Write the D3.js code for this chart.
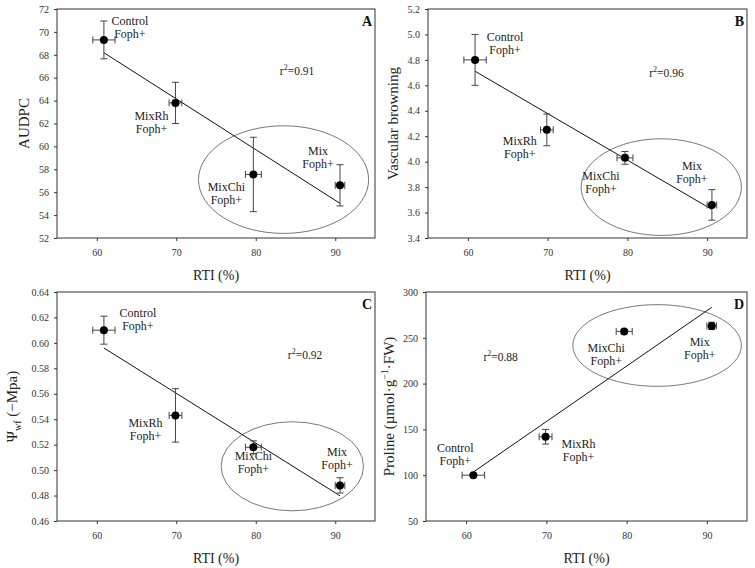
<!DOCTYPE html>
<html>
<head>
<meta charset="utf-8">
<script src="https://cdn.jsdelivr.net/npm/d3@7"></script>
<style>
body { margin: 0; background: #fff; }
svg { display: block; font-family: "Liberation Serif", "Times New Roman", serif; }
.tick text { fill: #333; font-size: 10px; }
.tick line { stroke: #333; }
</style>
</head>
<body>
<div id="chart"></div>
<script>
// shared x values (RTI %) and groups
const groups = ["Control", "MixRh", "MixChi", "Mix"]
const rti = [60.9, 69.9, 79.7, 90.6]
const rtiErr = [1.4, 0.8, 1.0, 0.6]
const xTicks = [60, 70, 80, 90]

// panel series
const audpc = [69.3, 63.8, 57.55, 56.6]
const audpcErr = [1.65, 1.8, 3.25, 1.8]
const browning = [4.8, 4.25, 4.03, 3.66]
const browningErr = [0.2, 0.125, 0.05, 0.12]
const psiWf = [0.610, 0.543, 0.518, 0.488]
const psiWfErr = [0.011, 0.021, 0.005, 0.006]
const proline = [100, 142, 257, 263]
const prolineErr = [1, 8, 2, 4]

// y tick values
const yTicksA = [52, 54, 56, 58, 60, 62, 64, 66, 68, 70, 72]
const yTicksB = [3.4, 3.6, 3.8, 4.0, 4.2, 4.4, 4.6, 4.8, 5.0, 5.2]
const yTicksC = [0.46, 0.48, 0.50, 0.52, 0.54, 0.56, 0.58, 0.60, 0.62, 0.64]
const yTicksD = [50, 100, 150, 200, 250, 300]

const r2Values = ["0.91", "0.96", "0.92", "0.88"]
const panelLetters = ["A", "B", "C", "D"]

// cluster ellipses, data units [cx, cy, rx, ry]
const ellipseA = [83.5, 57.1, 10.7, 4.7]
const ellipseB = [84.25, 3.80, 10.05, 0.38]
const ellipseC = [84.6, 0.503, 8.96, 0.035]
const ellipseD = [83.8, 241.6, 10.5, 44.6]

const width = 755
const height = 568

const panels = [
  { values: audpc, errs: audpcErr, yTicks: yTicksA, fmt: d3.format("d"), ellipse: ellipseA,
    box: { l: 57, t: 9, w: 318, h: 229 }, titleX: 28, r2At: [85.2, 66.55],
    labelOff: [[26, -19], [-24, 13], [-27, 13], [-22, -34]] },
  { values: browning, errs: browningErr, yTicks: yTicksB, fmt: d3.format(".1f"), ellipse: ellipseB,
    box: { l: 428, t: 9, w: 319, h: 229 }, titleX: 30, r2At: [84.9, 4.70],
    labelOff: [[30, -23], [-27, 11], [-24, 18], [-20, -39]] },
  { values: psiWf, errs: psiWfErr, yTicks: yTicksC, fmt: d3.format(".2f"), ellipse: ellipseC,
    box: { l: 57, t: 292, w: 318, h: 229 }, titleX: 40, r2At: [86.2, 0.5906],
    labelOff: [[34, -17], [-30, 8], [0, 9], [-3, -33]] },
  { values: proline, errs: prolineErr, yTicks: yTicksD, fmt: d3.format("d"), ellipse: ellipseD,
    box: { l: 426, t: 292, w: 321, h: 229 }, titleX: 32, r2At: [64.3, 229],
    labelOff: [[-18, -27], [33, 7], [-18, 17], [-12, 16]] }
]

const svg = d3.select("#chart").append("svg")
  .attr("width", width)
  .attr("height", height)

const yTitle = (g, i) => {
  if (i === 0) g.text("AUDPC")
  if (i === 1) g.text("Vascular browning")
  if (i === 2) {
    g.append("tspan").text("Ψ")
    g.append("tspan").text("wf").attr("font-size", "10px").attr("dy", 4)
    g.append("tspan").text(" (−Mpa)").attr("dy", -4)
  }
  if (i === 3) {
    g.append("tspan").text("Proline (µmol·g")
    g.append("tspan").text("−1").attr("font-size", "10px").attr("dy", -6)
    g.append("tspan").text("·FW)").attr("dy", 6)
  }
}

panels.forEach((p, i) => {
  const { l, t, w, h } = p.box
  const g = svg.append("g").attr("transform", `translate(${l},${t})`)

  const xScale = d3.scaleLinear().domain([55, 95]).range([0, w])
  const yTop = p.yTicks[p.yTicks.length - 1]
  const yScale = d3.scaleLinear().domain([p.yTicks[0], yTop]).range([h, 0])

  const xAxis = d3.axisBottom(xScale).tickValues(xTicks).tickSize(3).tickSizeOuter(0).tickPadding(8)
  const yAxis = d3.axisLeft(yScale).tickValues(p.yTicks).tickFormat(p.fmt).tickSize(3).tickSizeOuter(0).tickPadding(5)

  g.append("g").attr("transform", `translate(0,${h})`).call(xAxis)
    .attr("font-family", null)
    .call(a => a.select(".domain").remove())
  g.append("g").call(yAxis)
    .attr("font-family", null)
    .call(a => a.select(".domain").remove())

  g.append("rect")
    .attr("width", w).attr("height", h)
    .attr("fill", "none").attr("stroke", "#333").attr("stroke-width", 1)

  // cluster ellipse
  const [ecx, ecy, erx, ery] = p.ellipse
  g.append("ellipse")
    .attr("cx", xScale(ecx)).attr("cy", yScale(ecy))
    .attr("rx", xScale(ecx + erx) - xScale(ecx))
    .attr("ry", yScale(ecy) - yScale(ecy + ery))
    .attr("fill", "none").attr("stroke", "#555").attr("stroke-width", 0.8)

  // least squares line from first to last point
  const mx = d3.mean(rti)
  const my = d3.mean(p.values)
  const slope = d3.sum(rti, (x, k) => (x - mx) * (p.values[k] - my)) / d3.sum(rti, x => (x - mx) ** 2)
  const fit = x => my + slope * (x - mx)
  const x0 = rti[0], x1 = rti[rti.length - 1]
  g.append("line")
    .attr("x1", xScale(x0)).attr("y1", yScale(fit(x0)))
    .attr("x2", xScale(x1)).attr("y2", yScale(fit(x1)))
    .attr("stroke", "#111").attr("stroke-width", 1)

  const pts = rti.map((x, k) => ({ x, xe: rtiErr[k], y: p.values[k], ye: p.errs[k], name: groups[k], off: p.labelOff[k] }))

  const err = g.append("g").attr("stroke", "#444").attr("stroke-width", 1).attr("fill", "none")
  const cap = 3.5
  pts.forEach(d => {
    const cx = xScale(d.x), cy = yScale(d.y)
    const ya = yScale(d.y + d.ye), yb = yScale(d.y - d.ye)
    const xa = xScale(d.x - d.xe), xb = xScale(d.x + d.xe)
    err.append("path").attr("d",
      `M${cx},${ya}V${yb}M${cx - cap},${ya}H${cx + cap}M${cx - cap},${yb}H${cx + cap}` +
      `M${xa},${cy}H${xb}M${xa},${cy - cap}V${cy + cap}M${xb},${cy - cap}V${cy + cap}`)
  })

  g.selectAll("circle.pt")
    .data(pts)
    .enter()
    .append("circle")
    .attr("class", "pt")
    .attr("cx", d => xScale(d.x))
    .attr("cy", d => yScale(d.y))
    .attr("r", 4)
    .attr("fill", "#000")

  const labels = g.selectAll("text.grp")
    .data(pts)
    .enter()
    .append("text")
    .attr("class", "grp")
    .attr("text-anchor", "middle")
    .attr("font-size", "12px")
    .attr("fill", "#222")
  labels.append("tspan")
    .attr("x", d => xScale(d.x) + d.off[0])
    .attr("y", d => yScale(d.y) + d.off[1] + 4)
    .text(d => d.name)
  labels.append("tspan")
    .attr("x", d => xScale(d.x) + d.off[0])
    .attr("y", d => yScale(d.y) + d.off[1] + 17)
    .text("Foph+")

  // r squared
  const r2 = g.append("text")
    .attr("x", xScale(p.r2At[0]))
    .attr("y", yScale(p.r2At[1]) + 4)
    .attr("text-anchor", "middle")
    .attr("font-size", "11.5px")
    .attr("fill", "#222")
  r2.append("tspan").text("r")
  r2.append("tspan").text("2").attr("font-size", "8px").attr("dy", -5)
  r2.append("tspan").text("=" + r2Values[i]).attr("dy", 5)

  g.append("text")
    .text(panelLetters[i])
    .attr("x", w - 3)
    .attr("y", 17)
    .attr("text-anchor", "end")
    .attr("font-size", "14px")
    .attr("font-weight", "bold")
    .attr("fill", "#111")

  g.append("text")
    .text("RTI (%)")
    .attr("x", w / 2)
    .attr("y", h + 42)
    .attr("text-anchor", "middle")
    .attr("font-size", "14px")
    .attr("fill", "#222")

  g.append("text")
    .attr("transform", `translate(${-p.titleX},${h / 2}) rotate(-90)`)
    .attr("text-anchor", "middle")
    .attr("font-size", "15px")
    .attr("fill", "#222")
    .call(s => yTitle(s, i))
})
</script>
</body>
</html>
